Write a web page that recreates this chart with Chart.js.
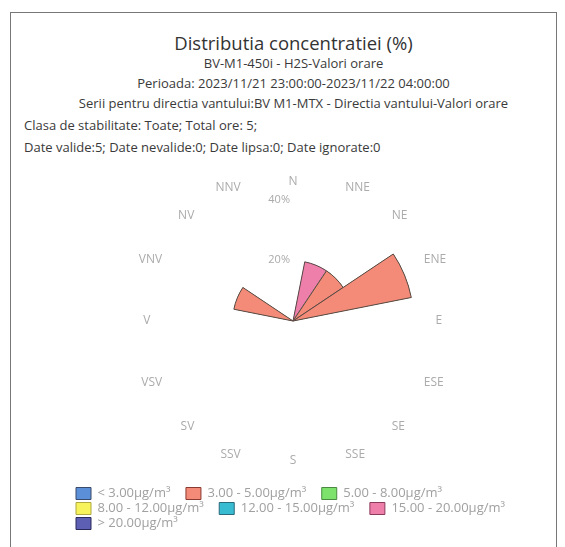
<!DOCTYPE html>
<html>
<head>
<meta charset="utf-8">
<script src="https://cdn.jsdelivr.net/npm/chart.js@4.4.0/dist/chart.umd.min.js"></script>
<style>
  body { margin: 0; background: #fff; width: 565px; height: 547px; overflow: hidden; font-family: "Open Sans", sans-serif; }
  #frame { position: absolute; left: 10px; top: 12px; width: 545px; height: 560px; border: 1px solid #777; }
  .ln { position: absolute; left: 0; width: 587px; text-align: center; color: #3a3a3a; font-size: 13px; line-height: 20px; white-space: nowrap; }
  .lf { left: 24px; width: auto; text-align: left; }
  #title { font-size: 18.5px; color: #333; line-height: 22px; }
  #wrap { position: absolute; left: 10px; top: 160px; width: 546px; height: 387px; }
</style>
</head>
<body>
<div id="frame"></div>
<div class="ln" id="title" style="top:32px">Distributia concentratiei (%)</div>
<div class="ln" style="top:53px">BV-M1-450i - H2S-Valori orare</div>
<div class="ln" style="top:73px">Perioada: 2023/11/21 23:00:00-2023/11/22 04:00:00</div>
<div class="ln" style="top:93px">Serii pentru directia vantului:BV M1-MTX - Directia vantului-Valori orare</div>
<div class="ln lf" style="top:115px">Clasa de stabilitate: Toate; Total ore: 5;</div>
<div class="ln lf" style="top:137px">Date valide:5; Date nevalide:0; Date lipsa:0; Date ignorate:0</div>
<div id="wrap"><canvas id="rose"></canvas></div>
<script>
const directions = ['N', 'NNE', 'NE', 'ENE', 'E', 'ESE', 'SE', 'SSE', 'S', 'SSV', 'SV', 'VSV', 'V', 'VNV', 'NV', 'NNV'];
const classLabels = ['< 3.00µg/m³', '3.00 - 5.00µg/m³', '5.00 - 8.00µg/m³', '8.00 - 12.00µg/m³', '12.00 - 15.00µg/m³', '15.00 - 20.00µg/m³', '> 20.00µg/m³'];
const classColors = ['#5b8fd8', '#f38b78', '#7de26c', '#f7f35c', '#38bcd2', '#ee7eaa', '#5c5fb4'];
const classBorders = ['#3a4a6a', '#8a3a30', '#4a8a40', '#b0a840', '#2a6a7a', '#8a3a5a', '#2a2a5a'];

// % din ore pe directie, pentru fiecare clasa de concentratie
const sLt3 = [0, 0, 0, 0, 0, 0, 0, 0, 0, 0, 0, 0, 0, 0, 0, 0];
const s3to5 = [0, 0, 20, 40, 0, 0, 0, 0, 0, 0, 0, 0, 0, 20, 0, 0];
const s5to8 = [0, 0, 0, 0, 0, 0, 0, 0, 0, 0, 0, 0, 0, 0, 0, 0];
const s8to12 = [0, 0, 0, 0, 0, 0, 0, 0, 0, 0, 0, 0, 0, 0, 0, 0];
const s12to15 = [0, 0, 0, 0, 0, 0, 0, 0, 0, 0, 0, 0, 0, 0, 0, 0];
const s15to20 = [0, 20, 0, 0, 0, 0, 0, 0, 0, 0, 0, 0, 0, 0, 0, 0];
const sGt20 = [0, 0, 0, 0, 0, 0, 0, 0, 0, 0, 0, 0, 0, 0, 0, 0];
const tickValues = [20, 40];

const classSeries = [sLt3, s3to5, s5to8, s8to12, s12to15, s15to20, sGt20];

// stacked: each dataset is the running sum, lower classes drawn on top
const datasets = classSeries.map((series, k) => ({
    label: classLabels[k],
    data: directions.map((d, i) => classSeries.slice(0, k + 1).reduce((a, s) => a + s[i], 0)),
    backgroundColor: classColors[k],
    borderColor: '#5a4844',
    borderWidth: (ctx) => series[ctx.dataIndex] > 0 ? 1 : 0
}));

const tickLabels = {
    id: 'tickLabels',
    afterDatasetsDraw(chart) {
        const r = chart.scales.r;
        const ctx = chart.ctx;
        ctx.save();
        ctx.font = '11px "Open Sans"';
        ctx.fillStyle = '#aaa';
        ctx.textAlign = 'right';
        ctx.textBaseline = 'middle';
        tickValues.forEach(v => {
            ctx.fillText(v + '%', r.xCenter - 3, r.yCenter - r.getDistanceFromCenterForValue(v) - 1);
        });
        ctx.restore();
    }
};

// spaces keep the gap between legend items wide without spreading the rows
const spacer = [true, true, false, true, true, false, false];

new Chart(document.getElementById('rose'), {
    type: 'polarArea',
    data: { labels: directions, datasets: datasets },
    plugins: [tickLabels],
    options: {
        responsive: true, maintainAspectRatio: false, animation: false,
        layout: { padding: { top: 14, left: 64, right: 44, bottom: 7 } },
        scales: {
            r: {
                min: 0, max: 40, startAngle: -11.25,
                ticks: { display: false, stepSize: 20 },
                grid: { display: false },
                angleLines: { display: false },
                pointLabels: {
                    display: true, centerPointLabels: true, color: '#ababab',
                    // side labels sit a bit further out than N / S
                    padding: (ctx) => 12 + Math.round(10 * Math.abs(Math.sin(ctx.index * Math.PI / 8))),
                    font: { family: 'Open Sans', size: 12 }
                }
            }
        },
        plugins: {
            tooltip: { enabled: false },
            legend: {
                position: 'bottom', align: 'start',
                onClick: () => {},
                title: { display: true, text: '', font: { size: 1 }, padding: { top: 15, bottom: 0 } },
                labels: {
                    boxWidth: 15, boxHeight: 12, padding: 2, color: '#a0a0a0',
                    font: { family: 'Open Sans', size: 13 },
                    generateLabels: () => classLabels.map((t, i) => ({
                        text: spacer[i] ? t + '    ' : t,
                        fillStyle: classColors[i], strokeStyle: classBorders[i],
                        lineWidth: 1, hidden: false, datasetIndex: i, fontColor: '#a0a0a0'
                    }))
                }
            }
        }
    }
});
</script>
</body>
</html>
